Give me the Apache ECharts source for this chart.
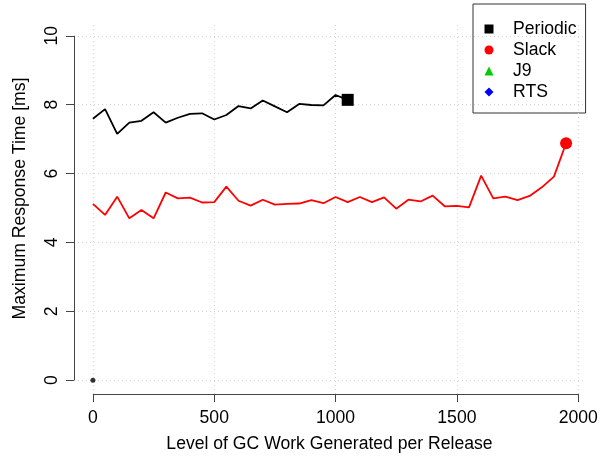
<!DOCTYPE html>
<html>
<head>
<meta charset="utf-8">
<script src="https://cdn.jsdelivr.net/npm/echarts@6/dist/echarts.min.js"></script>
<style>
html,body{margin:0;padding:0;background:#fff;}
#chart{width:613px;height:458px;}
</style>
</head>
<body>
<div id="chart"></div>
<script>
// ---- data ----
const periodicLevels = [0,50,100,150,200,250,300,350,400,450,500,550,600,650,700,750,800,850,900,950,1000,1050];
const periodicValues = [7.59,7.87,7.15,7.48,7.53,7.78,7.48,7.62,7.73,7.75,7.57,7.70,7.96,7.89,8.12,7.95,7.78,8.02,7.99,7.98,8.28,8.14];
const slackLevels = [0,50,100,150,200,250,300,350,400,450,500,550,600,650,700,750,800,850,900,950,
                     1000,1050,1100,1150,1200,1250,1300,1350,1400,1450,1500,1550,1600,1650,1700,1750,1800,1850,1900,1950];
const slackValues = [5.12,4.80,5.33,4.70,4.94,4.70,5.45,5.28,5.30,5.16,5.17,5.62,5.21,5.07,5.24,5.10,5.12,5.13,5.23,5.14,
                     5.32,5.17,5.32,5.17,5.31,4.98,5.24,5.19,5.36,5.05,5.06,5.02,5.94,5.28,5.33,5.23,5.35,5.60,5.91,6.88];
const originPoint = [0, 0];
const xTicks = [0,500,1000,1500,2000];
const yTicks = [0,2,4,6,8,10];
const legendNames = ['Periodic','Slack','J9','RTS'];
const xRange = [-78, 2028];
const yRange = [-0.4, 10.4];

// ---- chart ----
const FONT = '"Liberation Sans", Arial, Helvetica, sans-serif';
const FS = 17.6;
const AXIS_COLOR = '#444';
const chart = echarts.init(document.getElementById('chart'), null, {renderer:'canvas'});

function lineData(xs, ys, lastSymbol, lastSize){
  return xs.map((x,i)=> i === xs.length-1
    ? {value:[x, ys[i]], symbol:lastSymbol, symbolSize:lastSize}
    : {value:[x, ys[i]]});
}

const gridLines = [];
xTicks.forEach(v => gridLines.push({xAxis: v}));
yTicks.forEach(v => gridLines.push({yAxis: v}));

const axisSegments = [
  [{coord:[xTicks[0], yRange[0]]}, {coord:[xTicks[xTicks.length-1], yRange[0]]}],
  [{coord:[xRange[0], yTicks[0]]}, {coord:[xRange[0], yTicks[yTicks.length-1]]}]
];

chart.setOption({
  animation: false,
  backgroundColor: '#fff',
  textStyle: {fontFamily: FONT},
  grid: {left: 74, right: 28, top: 22, bottom: 64, containLabel: false},
  legend: {
    data: legendNames.map((n, i) => ({name: n, icon: ['rect','circle','triangle','diamond'][i]})),
    orient: 'vertical',
    left: 473, top: 4,
    padding: [16, 9, 12, 11.5],
    itemGap: 3,
    itemWidth: 9, itemHeight: 9,
    borderColor: '#333', borderWidth: 1,
    borderRadius: 0,
    selectedMode: false,
    textStyle: {fontFamily: FONT, fontSize: FS, color: '#000', padding: [0,0,0,14.5]}
  },
  xAxis: {
    type: 'value', min: xRange[0], max: xRange[1],
    name: 'Level of GC Work Generated per Release',
    nameLocation: 'middle', nameGap: 41,
    nameTextStyle: {fontFamily: FONT, fontSize: FS, color: '#000'},
    axisLine: {show: true, onZero: false, lineStyle: {opacity: 0}},
    axisTick: {show: true, customValues: xTicks, length: 8, lineStyle: {color: AXIS_COLOR, width: 1, opacity: 1}},
    axisLabel: {customValues: xTicks, margin: 15, fontFamily: FONT, fontSize: FS, color: '#000',
                formatter: v => String(v)},
    splitLine: {show: false}
  },
  yAxis: {
    type: 'value', min: yRange[0], max: yRange[1],
    name: 'Maximum Response Time [ms]',
    nameLocation: 'middle', nameGap: 45,
    nameTextStyle: {fontFamily: FONT, fontSize: FS, color: '#000', padding: [0,0,0,19]},
    axisLine: {show: true, onZero: false, lineStyle: {opacity: 0}},
    axisTick: {show: true, customValues: yTicks, length: 8, lineStyle: {color: AXIS_COLOR, width: 1, opacity: 1}},
    axisLabel: {customValues: yTicks, margin: 13, rotate: 90, fontFamily: FONT, fontSize: FS, color: '#000',
                formatter: v => String(v)},
    splitLine: {show: false}
  },
  series: [
    {
      name: 'grid', type: 'line', data: [], z: 1, silent: true, clip: false,
      markLine: {
        silent: true, symbol: ['none','none'], label: {show: false},
        lineStyle: {color: '#d3d3d3', type: [1,3], width: 1},
        emphasis: {disabled: true},
        data: gridLines
      }
    },
    {
      name: 'axes', type: 'line', data: [], z: 3, silent: true, clip: false,
      markLine: {
        silent: true, symbol: ['none','none'], label: {show: false},
        lineStyle: {color: AXIS_COLOR, type: 'solid', width: 1},
        emphasis: {disabled: true},
        data: axisSegments
      }
    },
    {
      name: 'Periodic', type: 'line', z: 5,
      symbol: 'none', color: '#000',
      lineStyle: {color: '#000', width: 1.8},
      itemStyle: {color: '#000'},
      data: lineData(periodicLevels, periodicValues, 'rect', 12)
    },
    {
      name: 'Slack', type: 'line', z: 5,
      symbol: 'none', color: '#ff0000',
      lineStyle: {color: '#ff0000', width: 1.8},
      itemStyle: {color: '#ff0000'},
      data: lineData(slackLevels, slackValues, 'circle', 12)
    },
    {name: 'J9', type: 'line', data: [], color: '#00cd00', itemStyle: {color: '#00cd00'}},
    {name: 'RTS', type: 'line', data: [], color: '#0000ff', itemStyle: {color: '#0000ff'}},
    {
      name: 'origin', type: 'scatter', z: 6, symbol: 'circle', symbolSize: 5,
      itemStyle: {color: '#000'},
      data: [originPoint]
    }
  ]
});
</script>
</body>
</html>
